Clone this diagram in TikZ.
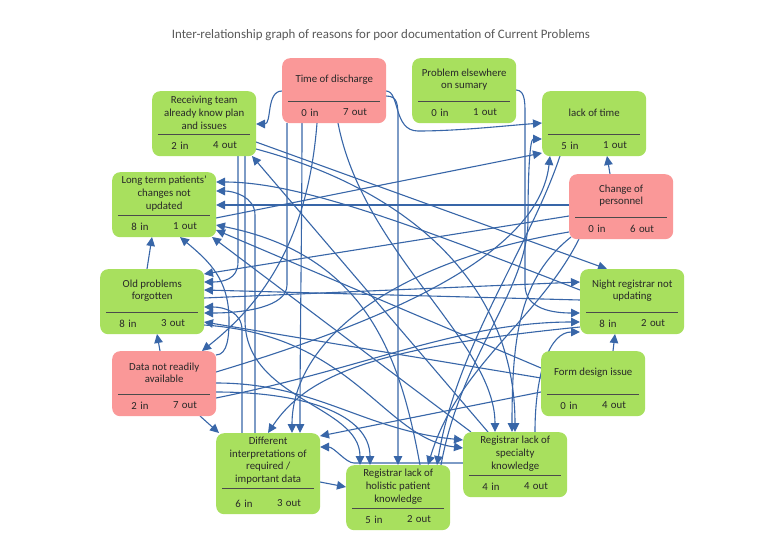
\documentclass[tikz,border=0pt]{standalone}
\usepackage{fontspec}
\setmainfont{Carlito}
\usetikzlibrary{calc,arrows.meta}
\definecolor{gbox}{RGB}{168,224,94}
\definecolor{rbox}{RGB}{250,152,152}
\definecolor{conncol}{RGB}{56,102,168}
\definecolor{txtc}{RGB}{40,40,40}
\definecolor{sepc}{RGB}{75,75,75}
\definecolor{ttlc}{RGB}{89,89,89}
\pgfdeclarelayer{bg}
\pgfsetlayers{bg,main}
\tikzset{
 box/.style={rectangle, rounded corners=8pt, draw=none, minimum width=104pt, inner sep=0pt},
 sepline/.style={draw=sepc, line width=1.1pt},
 btxt/.style={font=\fontsize{10.8}{12.8}\selectfont, text=txtc, align=center, inner sep=0pt},
 conn/.style={draw=conncol, line width=1.1pt, -{Triangle[length=9pt,width=8.5pt]}},
 ttl/.style={font=\fontsize{12.9}{15}\selectfont, text=ttlc, inner sep=0pt}
}
% name, x0, y0, height, fill, line offset from bottom, text, in, out
\newcommand{\ibox}[9]{%
 \node[box, fill=#5, minimum height=#4pt, anchor=north west] (#1) at (#2,#3) {};
 \draw[sepline] ($(#1.south west)+(6,-#6)$) -- ($(#1.south east)+(-6,-#6)$);
 \node[btxt] (#1-t) at ($(#1.north)!0.5!(#1.south)+(0,-#6/2)$) {#7};
 \node[btxt] (#1-i) at ($(#1.south west)+(28,-11)$) {#8\hspace{3.5pt}in};
 \node[btxt] (#1-o) at ($(#1.south west)+(73,-11)$) {#9\hspace{3.5pt}out};
}
\begin{document}
\begin{tikzpicture}[x=1pt,y=-1pt]
\useasboundingbox (0,0) rectangle (761,538);
\node[ttl] (title) at (381,35) {Inter-relationship graph of reasons for poor documentation of Current Problems};

\ibox{tod}{282}{58}{65}{rbox}{22}{Time of discharge}{0}{7}
\ibox{pe}{412}{58}{65}{gbox}{22}{Problem elsewhere\\on sumary}{0}{1}
\ibox{rec}{152}{91}{65}{gbox}{22}{Receiving team\\already know plan\\and issues}{2}{4}
\ibox{lot}{542}{91}{65}{gbox}{22}{lack of time}{5}{1}
\ibox{lt}{112}{172}{65}{gbox}{22}{Long term patients’\\changes not\\updated}{8}{1}
\ibox{cop}{569}{174}{65}{rbox}{22}{Change of\\personnel}{0}{6}
\ibox{op}{100}{269}{65}{gbox}{22}{Old problems\\forgotten}{8}{3}
\ibox{nr}{580}{269}{65}{gbox}{22}{Night registrar not\\updating}{8}{2}
\ibox{dnr}{112}{351}{65}{rbox}{22}{Data not readily\\available}{2}{7}
\ibox{fd}{541}{351}{65}{gbox}{22}{Form design issue}{0}{4}
\ibox{di}{216}{433}{81}{gbox}{26}{Different\\interpretations of\\required /\\important data}{6}{3}
\ibox{rs}{463}{432}{65}{gbox}{22}{Registrar lack of\\specialty\\knowledge}{4}{4}
\ibox{rh}{346}{465}{65}{gbox}{22}{Registrar lack of\\holistic patient\\knowledge}{5}{2}

\begin{pgfonlayer}{bg}
\fill[white] (0,0) rectangle (761,538);
% Time of discharge
\draw[conn] ($(tod.north west)+(0,33)$) .. controls +(-16,0) and +(16,0) .. ($(rec.north west)+(104,33)$);
\draw[conn] ($(tod.north west)+(104,33)$) .. controls +(14,0) and +(-25,0) .. (418,131) .. controls +(40,0) and +(-40,3) .. ($(lot.north west)+(0,32)$);
\draw[conn] ($(tod.north west)+(104,38)$) .. controls +(12,0) and +(0,-15) .. (398,120) -- ($(rh.north west)+(52,0)$);
\draw[conn] ($(tod.north west)+(20,65)$) .. controls +(0,100) and +(0,-100) .. ($(di.north west)+(84,0)$);
\draw[conn] ($(tod.north west)+(5,65)$) -- (287,285) .. controls +(0,22) and +(40,0) .. ($(op.north west)+(104,44)$);
\draw[conn] ($(tod.north west)+(35,65)$) .. controls +(-10,130) and +(50,-40) .. ($(dnr.north west)+(90,0)$);
\draw[conn] ($(tod.north west)+(56,65)$) .. controls +(25,130) and +(0,-90) .. ($(rs.north west)+(32,0)$);
% Problem elsewhere
\draw[conn] ($(pe.north west)+(104,32)$) .. controls +(10,0) and +(0,-15) .. (525,120) -- (525,285) .. controls +(0,25) and +(-25,0) .. ($(nr.north west)+(0,44)$);
% Receiving team
\draw[conn] ($(rec.north west)+(104,51)$) -- ($(nr.north west)+(27,0)$);
\draw[conn] ($(rec.north west)+(86,65)$) -- (238,262) .. controls +(0,18) and +(18,0) .. ($(op.north west)+(104,13)$);
\draw[conn] ($(rec.north west)+(93,65)$) -- (245,320) .. controls +(0,80) and +(0,-60) .. ($(rh.north west)+(14,0)$);
\draw[conn] ($(rec.north west)+(104,58)$) .. controls +(150,40) and +(0,-150) .. ($(rs.north west)+(52,0)$);
% Long term
\draw[conn] ($(lt.north west)+(104,46)$) -- ($(lot.north west)+(0,62)$);
% lack of time
\draw[conn] ($(lot.north west)+(18,65)$) .. controls +(-30,90) and +(20,-120) .. ($(rh.north west)+(91,0)$);
% Change of personnel
\draw[conn] ($(cop.north west)+(41,0)$) -- ($(lot.north west)+(65,65)$);
\draw[conn] ($(cop.north west)+(0,31)$) -- ($(lt.north west)+(104,33)$);
\draw[conn] ($(cop.north west)+(0,42)$) -- ($(op.north west)+(104,5)$);
\draw[conn] ($(cop.north west)+(10,65)$) .. controls +(-40,80) and +(30,-100) .. ($(rh.north west)+(82,0)$);
\draw[conn] ($(cop.north west)+(0,58)$) .. controls +(-180,30) and +(0,-90) .. ($(di.north west)+(76,0)$);
\draw[conn] ($(cop.north west)+(2,63)$) .. controls +(-50,40) and +(0,-100) .. ($(rs.north west)+(49,0)$);
% Old problems
\draw[conn] ($(op.north west)+(47,0)$) -- ($(lt.north west)+(40,65)$);
\draw[conn] ($(op.north west)+(104,29)$) -- ($(nr.north west)+(0,13)$);
\draw[conn] ($(op.north west)+(104,56)$) .. controls +(150,10) and +(-80,-10) .. ($(rs.north west)+(0,16)$);
% Night registrar
\draw[conn] ($(nr.north west)+(0,21)$) .. controls +(-180,-70) and +(80,0) .. ($(lt.north west)+(104,10)$);
\draw[conn] ($(nr.north west)+(0,31)$) -- ($(op.north west)+(104,21)$);
\draw[conn] ($(nr.north west)+(0,58)$) .. controls +(-200,20) and +(40,-60) .. ($(di.north west)+(52,0)$);
% Data not readily available
\draw[conn] ($(dnr.north west)+(104,4)$) .. controls +(12,0) and +(0,15) .. (229,320) .. controls +(0,-40) and +(30,25) .. ($(lt.north west)+(68,65)$);
\draw[conn] ($(dnr.north west)+(48,0)$) -- ($(op.north west)+(57,65)$);
\draw[conn] ($(dnr.north west)+(88,65)$) -- ($(di.north west)+(3,0)$);
\draw[conn] ($(dnr.north west)+(104,21)$) .. controls +(200,-60) and +(-10,90) .. ($(lot.north west)+(8,65)$);
\draw[conn] ($(dnr.north west)+(104,32)$) .. controls +(100,0) and +(-100,-10) .. ($(rs.north west)+(0,8)$);
\draw[conn] ($(dnr.north west)+(104,41)$) .. controls +(90,0) and +(0,-50) .. ($(rh.north west)+(24,0)$);
\draw[conn] ($(dnr.north west)+(104,47)$) .. controls +(150,-30) and +(-120,0) .. ($(nr.north west)+(0,53)$);
% Form design
\draw[conn] ($(fd.north west)+(72,0)$) -- ($(nr.north west)+(35,65)$);
\draw[conn] ($(fd.north west)+(0,17)$) -- ($(lt.north west)+(104,58)$);
\draw[conn] ($(fd.north west)+(0,27)$) -- ($(op.north west)+(104,53)$);
\draw[conn] ($(fd.north west)+(0,41)$) -- ($(di.north west)+(104,3)$);
% Different interpretations
\draw[conn] ($(di.north west)+(39,0)$) -- (255,215) .. controls +(0,-18) and +(18,0) .. ($(lt.north west)+(104,19)$);
\draw[conn] ($(di.north west)+(26,0)$) -- (242,330) .. controls +(0,-18) and +(20,0) .. ($(op.north west)+(104,38)$);
\draw[conn] ($(di.north west)+(104,49)$) -- ($(rh.north west)+(0,22)$);
% Registrar specialty
\draw[conn] ($(rs.north west)+(25,0)$) -- ($(rec.north west)+(100,65)$);
\draw[conn] ($(rs.north west)+(8,0)$) -- ($(lt.north west)+(100,65)$);
\draw[conn] ($(rs.north west)+(72,0)$) .. controls +(0,-60) and +(-30,0) .. ($(nr.north west)+(0,63)$);
\draw[conn] ($(rs.north west)+(0,31)$) -- (354,463) .. controls +(-8,0) and +(14,0) .. ($(di.north west)+(104,14)$);
% Registrar holistic
\draw[conn] ($(rh.north west)+(95,0)$) .. controls +(20,-110) and +(0,70) .. (528,220) .. controls +(0,-50) and +(-12,0) .. ($(lot.north west)+(0,48)$);
\draw[conn] ($(rh.north west)+(74,0)$) .. controls +(-20,-110) and +(150,30) .. ($(lt.north west)+(104,53)$);
\end{pgfonlayer}
\end{tikzpicture}
\end{document}
